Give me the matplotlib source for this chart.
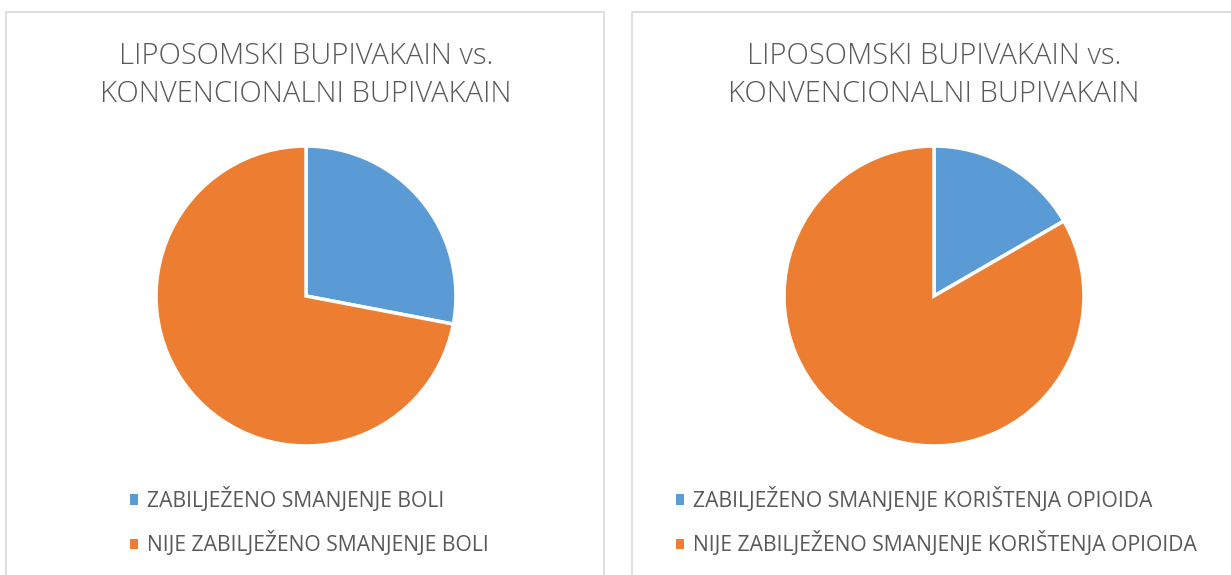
import matplotlib
matplotlib.use("Agg")
import matplotlib.pyplot as plt
from matplotlib.patches import Rectangle, Patch

W, H = 1231, 575
title = "LIPOSOMSKI BUPIVAKAIN vs.\nKONVENCIONALNI BUPIVAKAIN"
labels_left = ["ZABILJEŽENO SMANJENJE BOLI", "NIJE ZABILJEŽENO SMANJENJE BOLI"]
values_left = [28, 72]
labels_right = ["ZABILJEŽENO SMANJENJE KORIŠTENJA OPIOIDA", "NIJE ZABILJEŽENO SMANJENJE KORIŠTENJA OPIOIDA"]
values_right = [1, 5]
colors = ["#5B9BD5", "#ED7D31"]
text_color = "#595959"

fig = plt.figure(figsize=(W / 100, H / 100), dpi=100)
fig.patch.set_facecolor("white")

def fx(x): return x / W
def fy(y): return 1 - y / H

# panel borders
for (x0, x1) in [(6, 604), (632, 1240)]:
    fig.patches.append(Rectangle((fx(x0), fy(590)), fx(x1 - x0), (590 - 12) / H,
                                 transform=fig.transFigure, fill=False,
                                 edgecolor="#D9D9D9", linewidth=1.2))

def panel(cx, values, labels, legend_x):
    r = 150
    ax = fig.add_axes([fx(cx - r - 4), fy(296 + r + 4), (2 * r + 8) / W, (2 * r + 8) / H])
    ax.pie(values, colors=colors, startangle=90, counterclock=False, radius=1,
           wedgeprops=dict(edgecolor="white", linewidth=2.5))
    ax.set_xlim(-1.027, 1.027)
    ax.set_ylim(-1.027, 1.027)
    ax.set_aspect("equal")
    ax.axis("off")
    fig.text(fx(cx), fy(75.5), title, ha="center", va="center", fontsize=21,
             family="Open Sans", fontweight="light", color=text_color, linespacing=1.4)
    handles = [Patch(facecolor=c, edgecolor="none") for c in colors]
    leg = fig.legend(handles, labels, loc="upper left",
                     bbox_to_anchor=(fx(legend_x), fy(487)), frameon=False,
                     handlelength=0.4, handleheight=0.4, handletextpad=0.4,
                     labelspacing=0.92, borderpad=0, borderaxespad=0,
                     prop=dict(family="Open Sans", size=15.2))
    for t in leg.get_texts():
        t.set_color(text_color)

panel(306, values_left, labels_left, 130)
panel(934, values_right, labels_right, 676)

fig.savefig("out.png", dpi=100, facecolor="white")
